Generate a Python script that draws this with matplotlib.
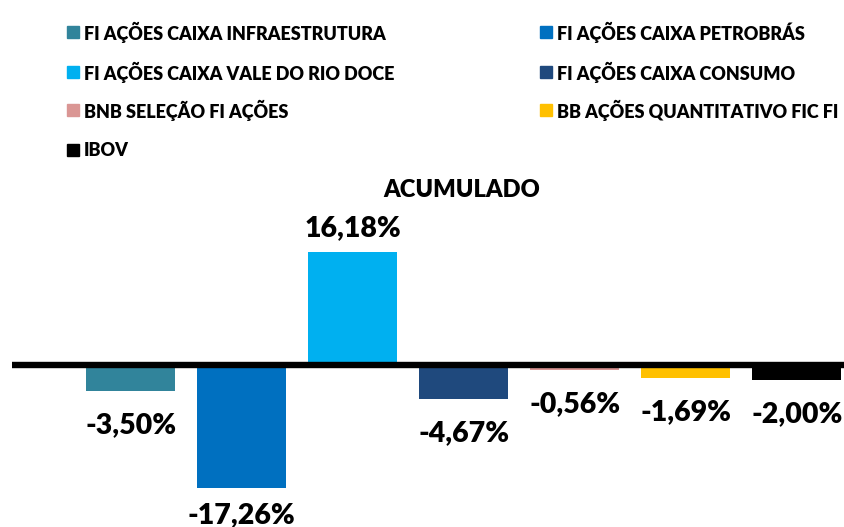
import matplotlib
matplotlib.use("Agg")
import matplotlib.pyplot as plt
from matplotlib.patches import Rectangle

# data
funds = [
    "FI AÇÕES CAIXA INFRAESTRUTURA",
    "FI AÇÕES CAIXA PETROBRÁS",
    "FI AÇÕES CAIXA VALE DO RIO DOCE",
    "FI AÇÕES CAIXA CONSUMO",
    "BNB SELEÇÃO FI AÇÕES",
    "BB AÇÕES QUANTITATIVO FIC FI",
    "IBOV",
]
returns = [-3.50, -17.26, 16.18, -4.67, -0.56, -1.69, -2.00]
colors = ["#31849B", "#0070C0", "#00B0F0", "#1F497D", "#DA9694", "#FFC000", "#000000"]
title = "ACUMULADO"

plt.rcParams["font.family"] = ["Lato", "DejaVu Sans"]

W, H = 844, 527
fig = plt.figure(figsize=(W / 100, H / 100), dpi=100)

# axes spans whole height; zero line sits at ~366 px from top, ~7.05 px per %
zero_px, px_per = 366.0, 7.05
ax = fig.add_axes([12 / W, 0, (W - 12) / W, 1])
ax.set_ylim((zero_px - H) / px_per, zero_px / px_per)
ax.set_xlim(-1.07, 6.43)
ax.axis("off")

x = list(range(len(returns)))
ax.bar(x, returns, width=0.8, color=colors, zorder=2)
ax.axhline(0.1, color="black", lw=4.6, zorder=3)

for xi, v in zip(x, returns):
    lab = f"{v:.2f}%".replace(".", ",")
    if v >= 0:
        ypx = zero_px - v * px_per - 24
    else:
        ypx = min(zero_px - v * px_per + 34, 515)
    fig.text((12 + (xi + 1.07) * 111) / W, 1 - ypx / H, lab,
             ha="center", va="center", fontsize=20.5, fontweight="heavy")

fig.text(462 / W, 1 - 190 / H, title, ha="center", va="center",
         fontsize=17, fontweight="heavy")

# legend, laid out row by row in two columns
col_x = [67, 540]
row_y = [32, 72, 110, 150]
for i, (name, c) in enumerate(zip(funds, colors)):
    mx, my = col_x[i % 2], row_y[i // 2]
    fig.patches.append(Rectangle((mx / W, 1 - (my + 6) / H), 12 / W, 12 / H,
                                 transform=fig.transFigure, color=c))
    fig.text((mx + 17) / W, 1 - my / H, name, ha="left", va="center",
             fontsize=13, fontweight="heavy")

fig.savefig("out.png", dpi=100)
